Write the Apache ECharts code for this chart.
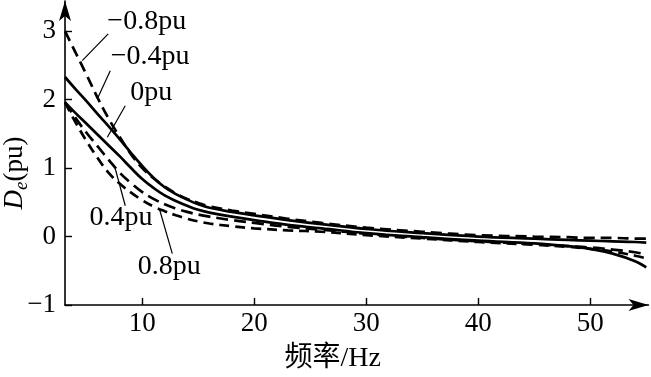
<!DOCTYPE html>
<html>
<head>
<meta charset="utf-8">
<script src="https://cdn.jsdelivr.net/npm/echarts@6/dist/echarts.min.js"></script>
<style>html,body{margin:0;background:#fff}#chart{width:651px;height:377px}</style>
</head>
<body>
<div id="chart"></div>
<script>
'use strict';

// frequency samples (Hz)
const freq = [3.1, 4, 5, 6, 7, 8, 9, 10, 11, 12, 13, 14, 15, 16, 18, 20, 23, 26, 30, 35, 40, 45, 48, 50, 52, 54, 55];

// De (pu), one array per power level
const deM08 = [3.00, 2.70, 2.37, 2.03, 1.72, 1.45, 1.20, 1.00, 0.85, 0.73, 0.63, 0.55, 0.49, 0.44, 0.38, 0.33, 0.26, 0.20, 0.13, 0.07, 0.02, 0.00, -0.01, -0.02, -0.02, -0.03, -0.03];
const deM04 = [2.33, 2.16, 1.98, 1.79, 1.61, 1.42, 1.22, 1.03, 0.86, 0.72, 0.62, 0.54, 0.47, 0.42, 0.36, 0.31, 0.24, 0.18, 0.11, 0.05, 0.00, -0.03, -0.05, -0.06, -0.07, -0.08, -0.09];
const de0 = [1.96, 1.81, 1.65, 1.49, 1.33, 1.17, 1.00, 0.84, 0.71, 0.60, 0.52, 0.45, 0.39, 0.35, 0.29, 0.24, 0.17, 0.12, 0.05, -0.01, -0.06, -0.10, -0.14, -0.18, -0.25, -0.36, -0.45];
const deP04 = [1.96, 1.74, 1.52, 1.32, 1.12, 0.93, 0.78, 0.65, 0.55, 0.47, 0.41, 0.36, 0.32, 0.29, 0.24, 0.20, 0.14, 0.10, 0.04, -0.02, -0.07, -0.11, -0.14, -0.16, -0.19, -0.23, -0.26];
const deP08 = [1.96, 1.68, 1.40, 1.15, 0.93, 0.77, 0.64, 0.53, 0.44, 0.37, 0.31, 0.26, 0.22, 0.19, 0.15, 0.12, 0.09, 0.07, 0.02, -0.03, -0.08, -0.12, -0.15, -0.18, -0.22, -0.28, -0.32];

const seriesValues = [deM08, deM04, de0, deP04, deP08];
const powerNames = ['−0.8pu', '−0.4pu', '0pu', '0.4pu', '0.8pu'];

// curve annotations, in data units: text centre and leader line ends
const labelAt = [[10.4, 3.14], [10.7, 2.63], [10.8, 2.10], [8.1, 0.28], [12.4, -0.44]];
const leaderFrom = [[6.96, 2.96], [7.14, 2.42], [8.48, 1.91], [8.48, 0.45], [12.68, -0.25]];
const leaderTo = [[4.64, 2.57], [5.98, 2.01], [6.88, 1.45], [7.59, 0.99], [11.52, 0.41]];

const xTicks = [10, 20, 30, 40, 50];
const yTicks = [-1, 0, 1, 2, 3];

const lineTypes = [[11, 6], 'solid', 'solid', [12, 6], [10, 6]];
const serif = 'Liberation Serif, Noto Sans CJK SC';

const chart = echarts.init(document.getElementById('chart'), null, {renderer: 'canvas'});

const series = seriesValues.map((vals, i) => ({
    name: powerNames[i],
    type: 'line',
    data: freq.map((f, k) => [f, vals[k]]),
    smooth: 0.4,
    showSymbol: false,
    lineStyle: {color: '#000', width: 2.7, type: lineTypes[i]},
    silent: true,
    markLine: {
        silent: true,
        symbol: 'none',
        label: {show: false},
        lineStyle: {color: '#000', width: 1.2, type: 'solid'},
        data: [[{coord: leaderFrom[i]}, {coord: leaderTo[i]}]]
    },
    markPoint: {
        silent: true,
        symbol: 'circle',
        symbolSize: 1,
        itemStyle: {color: 'rgba(0,0,0,0)'},
        label: {
            show: true, position: 'inside', formatter: powerNames[i],
            color: '#000', fontFamily: serif, fontSize: 28
        },
        data: [{coord: labelAt[i]}]
    }
}));

const fmt = v => (v < 0 ? '−' + Math.abs(v) : String(v));

chart.setOption({
    animation: false,
    backgroundColor: '#fff',
    grid: {left: 65, right: 2.5, top: 1, bottom: 72, outerBoundsMode: 'none', containLabel: false},
    xAxis: {
        type: 'value', min: 3.1, max: 55.2,
        name: '频率/Hz', nameLocation: 'middle', nameGap: 40, nameMoveOverlap: false,
        nameTextStyle: {color: '#000', fontFamily: serif, fontSize: 28, padding: [0, 48, 0, 0]},
        axisLine: {show: true, onZero: false, lineStyle: {color: '#000', width: 1.6}, symbol: ['none', 'arrow'], symbolSize: [9, 20], symbolOffset: [0, 0]},
        axisTick: {show: true, inside: true, length: 7, lineStyle: {color: '#000', width: 1.4}, customValues: xTicks},
        axisLabel: {color: '#000', fontFamily: serif, fontSize: 27, margin: 5, customValues: xTicks},
        splitLine: {show: false}
    },
    yAxis: {
        type: 'value', min: -1, max: 3.44,
        name: '{d|D}{e|e}{p|(pu)}', nameLocation: 'middle', nameGap: 33, nameRotate: 90, nameMoveOverlap: false,
        nameTextStyle: {
            color: '#000', fontFamily: serif, fontSize: 27, padding: [0, 40, 0, 0],
            rich: {
                d: {fontFamily: serif, fontSize: 27, fontStyle: 'italic', color: '#000'},
                e: {fontFamily: serif, fontSize: 19, fontStyle: 'italic', color: '#000', padding: [16, 0, 0, 0]},
                p: {fontFamily: serif, fontSize: 27, color: '#000'}
            }
        },
        axisLine: {show: true, onZero: false, lineStyle: {color: '#000', width: 1.6}, symbol: ['none', 'arrow'], symbolSize: [9, 20], symbolOffset: [0, 0]},
        axisTick: {show: true, inside: true, length: 7, lineStyle: {color: '#000', width: 1.4}, customValues: yTicks},
        axisLabel: {color: '#000', fontFamily: serif, fontSize: 27, margin: 9, formatter: fmt, customValues: yTicks},
        splitLine: {show: false}
    },
    series: series
});
</script>
</body>
</html>
